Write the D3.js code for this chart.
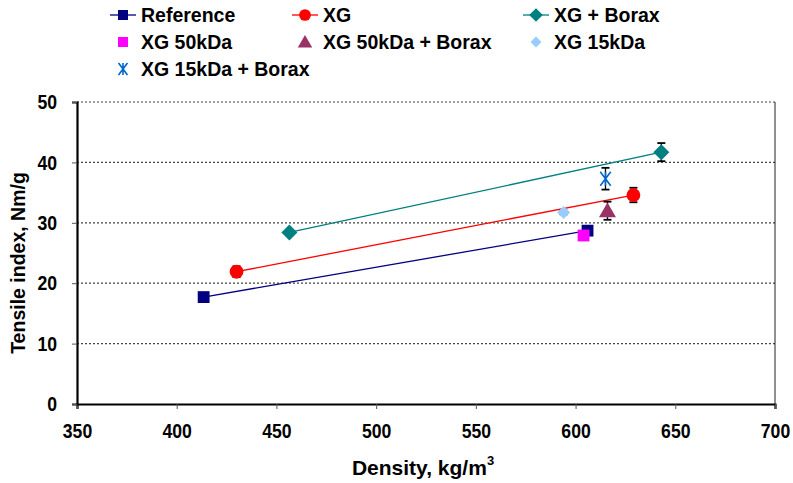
<!DOCTYPE html>
<html><head><meta charset="utf-8">
<script src="https://cdn.jsdelivr.net/npm/d3@7"></script>
<style>body{margin:0;background:#fff}svg{display:block}text{font-family:"Liberation Sans",Arial,sans-serif;font-weight:bold}</style>
</head><body><svg id="c" width="793" height="483"></svg>
<script>
const xTicks = [350,400,450,500,550,600,650,700];
const yTicks = [0,10,20,30,40,50];
const seriesNames = ["Reference","XG","XG + Borax","XG 50kDa","XG 50kDa + Borax","XG 15kDa","XG 15kDa + Borax"];
const seriesColors = ["#000080","#FF0000","#008080","#FF00FF","#993366","#99CCFF","#0066CC"];
const seriesSymbols = ["square","circle","diamond","square","triangle","diamond","star"];
const seriesHasLine = [true,true,true,false,false,false,false];
const refX = [413.5, 606]; const refY = [17.7, 28.7]; const refErr = [0.4, 0.7];
const xgX = [430, 629]; const xgY = [21.9, 34.6]; const xgErr = [0.9, 1.2];
const xgbX = [456.5, 643]; const xgbY = [28.4, 41.7]; const xgbErr = [0.4, 1.5];
const xg50X = [604]; const xg50Y = [27.9]; const xg50Err = [0.3];
const xg50bX = [616]; const xg50bY = [32.0]; const xg50bErr = [1.5];
const xg15X = [594]; const xg15Y = [31.7]; const xg15Err = [0.3];
const xg15bX = [615]; const xg15bY = [37.3]; const xg15bErr = [1.8];

const allX = [refX,xgX,xgbX,xg50X,xg50bX,xg15X,xg15bX];
const allY = [refY,xgY,xgbY,xg50Y,xg50bY,xg15Y,xg15bY];
const allE = [refErr,xgErr,xgbErr,xg50Err,xg50bErr,xg15Err,xg15bErr];

const svg = d3.select("#c");
const x = d3.scaleLinear().domain([350,700]).range([77,775]);
const y = d3.scaleLinear().domain([0,50]).range([404,102]);

function condense(sel, f){
  sel.each(function(){ const w=this.getComputedTextLength(); d3.select(this).attr("textLength",w*f).attr("lengthAdjust","spacingAndGlyphs"); });
}

// gridlines
svg.append("g").selectAll("line").data(yTicks.filter(d=>d>0)).join("line")
  .attr("x1",x(350)).attr("x2",x(700)).attr("y1",d=>y(d)).attr("y2",d=>y(d))
  .attr("stroke","#444").attr("stroke-width",1.2).attr("stroke-dasharray","2,2");
// right border
svg.append("line").attr("x1",x(700)).attr("x2",x(700)).attr("y1",y(50)).attr("y2",y(0)).attr("stroke","#222").attr("stroke-width",1);

const xAxis = svg.append("g").attr("transform",`translate(0,${y(0)})`)
  .call(d3.axisBottom(x).tickValues(xTicks).tickSize(5).tickPadding(22).tickFormat(d3.format("d")));
const yAxis = svg.append("g").attr("transform",`translate(${x(350)},0)`)
  .call(d3.axisLeft(y).tickValues(yTicks).tickSize(5).tickPadding(15).tickFormat(d3.format("d")));
[xAxis,yAxis].forEach(a=>{
  a.select(".domain").attr("stroke","#000").attr("stroke-width",2.2);
  a.selectAll(".tick line").attr("stroke","#555").attr("stroke-width",1);
  a.selectAll("text").attr("font-size",21).attr("fill","#000").attr("font-family","Liberation Sans, Arial, sans-serif").attr("font-weight","bold");
});
xAxis.selectAll("text").attr("dy","0.35em");
condense(xAxis.selectAll("text"),0.84);
condense(yAxis.selectAll("text"),0.84);

const symMap = {square:d3.symbolSquare,circle:d3.symbolCircle,triangle:d3.symbolTriangle};
const symSize = {square:140,circle:150,triangle:125};
function marker(g, sym, color, cx, cy, sc){
  sc = sc||1;
  if(sym==="star"){
    const r=7*sc;
    const p = `M${cx-r*0.75},${cy-r}L${cx+r*0.75},${cy+r}M${cx+r*0.75},${cy-r}L${cx-r*0.75},${cy+r}M${cx},${cy-r}L${cx},${cy+r}`;
    g.append("path").attr("d",p).attr("stroke",color).attr("stroke-width",1.6).attr("fill","none");
  } else if(sym==="diamond"){
    const r=(color==="#99CCFF"?6.5:8)*sc;
    g.append("path").attr("d",`M${cx},${cy-r}L${cx+r},${cy}L${cx},${cy+r}L${cx-r},${cy}Z`).attr("fill",color);
  } else {
    const s = symSize[sym]*sc*sc;
    g.append("path").attr("d",d3.symbol().type(symMap[sym]).size(s)()).attr("transform",`translate(${cx},${cy+(sym==="triangle"?1.5*sc:0)})`).attr("fill",color);
  }
}

// lines
const line = d3.line().x(d=>x(d[0])).y(d=>y(d[1]));
seriesNames.forEach((n,i)=>{
  if(seriesHasLine[i]) svg.append("path").attr("d",line(d3.zip(allX[i],allY[i]))).attr("stroke",seriesColors[i]).attr("stroke-width",1.3).attr("fill","none");
});
// error bars
seriesNames.forEach((n,i)=>{
  const g = svg.append("g").attr("stroke","#000").attr("stroke-width",1.3);
  allX[i].forEach((xv,j)=>{
    const e=allE[i][j], cx=x(xv);
    g.append("line").attr("x1",cx).attr("x2",cx).attr("y1",y(allY[i][j]+e)).attr("y2",y(allY[i][j]-e));
    [1,-1].forEach(s=>g.append("line").attr("x1",cx-4).attr("x2",cx+4).attr("y1",y(allY[i][j]+s*e)).attr("y2",y(allY[i][j]+s*e)).attr("stroke-width",1.8));
  });
});
// markers
seriesNames.forEach((n,i)=>{
  const g = svg.append("g");
  allX[i].forEach((xv,j)=>marker(g,seriesSymbols[i],seriesColors[i],x(xv),y(allY[i][j])));
});

// legend
const legText=[141,323,554], legRows=[15,42,69];
seriesNames.forEach((n,i)=>{
  const tx=legText[i%3], cy=legRows[Math.floor(i/3)], mx=tx-18;
  const g=svg.append("g");
  if(seriesHasLine[i]) g.append("line").attr("x1",mx-13).attr("x2",mx+13).attr("y1",cy).attr("y2",cy).attr("stroke",seriesColors[i]).attr("stroke-width",1.3);
  marker(g,seriesSymbols[i],seriesColors[i],mx,cy,0.85);
  g.append("text").attr("x",tx).attr("y",cy+7).attr("font-size",19.5).text(n);
});

// axis titles
const xt = svg.append("text").attr("x",423).attr("y",475).attr("text-anchor","middle").attr("font-size",21);
xt.append("tspan").text("Density, kg/m");
xt.append("tspan").attr("font-size",13).attr("dy",-10).text("3");
svg.append("text").attr("transform","translate(25,263) rotate(-90)").attr("text-anchor","middle").attr("font-size",19.5).text("Tensile index, Nm/g");
</script></body></html>
